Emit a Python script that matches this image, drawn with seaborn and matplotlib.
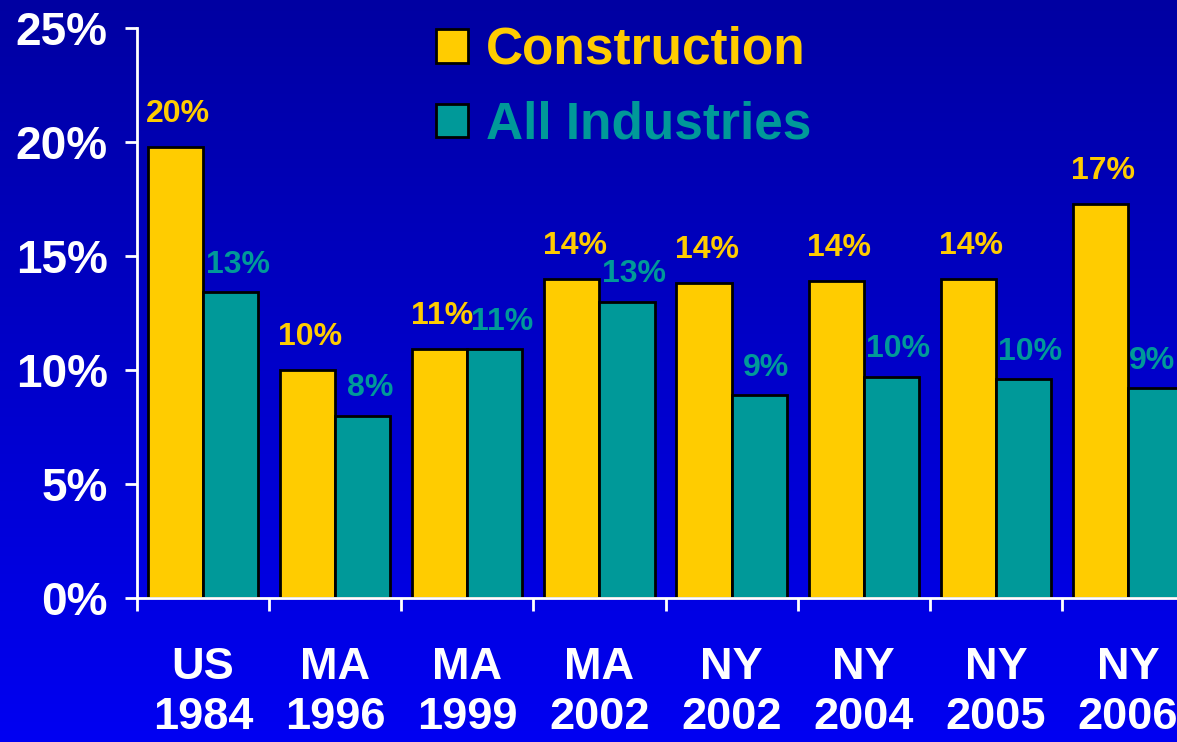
import numpy as np
import pandas as pd
import matplotlib
matplotlib.use("Agg")
import matplotlib.pyplot as plt
import seaborn as sns
from matplotlib.patches import Patch
from matplotlib.colors import LinearSegmentedColormap

# ---- data ----
categories = ["US\n1984", "MA\n1996", "MA\n1999", "MA\n2002",
              "NY\n2002", "NY\n2004", "NY\n2005", "NY\n2006"]
construction = [19.8, 10.0, 10.9, 14.0, 13.8, 13.9, 14.0, 17.3]
all_industries = [13.4, 8.0, 10.9, 13.0, 8.9, 9.7, 9.6, 9.2]
construction_labels = ["20%", "10%", "11%", "14%", "14%", "14%", "14%", "17%"]
all_labels = ["13%", "8%", "11%", "13%", "9%", "10%", "10%", "9%"]
series_names = ["Construction", "All Industries"]
y_ticks = [0, 5, 10, 15, 20, 25]
y_ticklabels = ["0%", "5%", "10%", "15%", "20%", "25%"]

YELLOW = "#FFCC00"
TEAL = "#009999"

df = pd.DataFrame({
    "category": categories * 2,
    "value": construction + all_industries,
    "series": [series_names[0]] * len(categories) + [series_names[1]] * len(categories),
})

sns.set_theme(style="white")
plt.rcParams["font.family"] = ["Liberation Sans", "DejaVu Sans"]
plt.rcParams["font.weight"] = "bold"

W, H = 1177, 742
fig = plt.figure(figsize=(W / 100, H / 100), dpi=100)

# background gradient
bg = fig.add_axes([0, 0, 1, 1], zorder=0)
cmap = LinearSegmentedColormap.from_list("bg", ["#0000A2", "#0000F2"])
grad = np.linspace(0, 1, 256).reshape(-1, 1)
bg.imshow(grad, aspect="auto", cmap=cmap, extent=[0, 1, 1, 0])
bg.set_axis_off()

left = 137 / W
right = 1194 / W
bottom = (H - 598) / H
top = (H - 28) / H
ax = fig.add_axes([left, bottom, right - left, top - bottom], zorder=1)
ax.patch.set_alpha(0)

sns.barplot(data=df, x="category", y="value", hue="series",
            palette=[YELLOW, TEAL], width=0.835, edgecolor="black",
            linewidth=2, saturation=1, ax=ax, legend=False, errorbar=None)

ax.set_ylim(0, 25)
ax.set_xlim(-0.5, len(categories) - 0.5)
ax.set_xlabel("")
ax.set_ylabel("")

for s in ["top", "right"]:
    ax.spines[s].set_visible(False)
for s in ["left", "bottom"]:
    ax.spines[s].set_color("white")
    ax.spines[s].set_linewidth(2)

ax.set_yticks(y_ticks)
ax.set_yticklabels(y_ticklabels)
ax.tick_params(axis="y", colors="white", length=9, width=2, pad=12,
               labelsize=33, direction="out", left=True)
ax.set_xticks(range(len(categories)))
ax.set_xticklabels(categories, linespacing=1.28)
ax.tick_params(axis="x", which="major", colors="white", length=0, pad=35,
               labelsize=32.5)
ax.set_xticks(np.arange(-0.5, len(categories), 1.0), minor=True)
ax.tick_params(axis="x", which="minor", colors="white", length=9, width=2,
               direction="out", bottom=True)
for t in ax.get_xticklabels() + ax.get_yticklabels():
    t.set_fontweight("bold")

# value labels
value_texts = []
for cont, labels, color, dx, dy in [
        (ax.containers[0], construction_labels, YELLOW, 2, 13),
        (ax.containers[1], all_labels, TEAL, 5, 9)]:
    for bar, lab in zip(cont, labels):
        x = bar.get_x() + bar.get_width() / 2
        y = bar.get_height()
        t = ax.annotate(lab, (x, y), xytext=(dx, dy), textcoords="offset points",
                        ha="center", va="bottom", color=color, fontsize=23,
                        fontweight="bold", clip_on=False)
        value_texts.append(t)

# keep value labels inside the figure
fig.canvas.draw()
renderer = fig.canvas.get_renderer()
for t in value_texts:
    bb = t.get_window_extent(renderer)
    over = bb.x1 - (W - 2)
    if over > 0:
        dx, dy = t.xyann
        t.xyann = (dx - over * 72 / 100, dy)

# legend
handles = [Patch(facecolor=YELLOW, edgecolor="black", linewidth=2),
           Patch(facecolor=TEAL, edgecolor="black", linewidth=2)]
leg = fig.legend(handles, series_names, loc="upper left",
                 bbox_to_anchor=(436 / W, 1 - 26 / H), frameon=False,
                 prop={"family": "Liberation Sans", "weight": "bold", "size": 37},
                 handlelength=0.62, handleheight=0.62, handletextpad=0.35,
                 labelspacing=0.5, borderpad=0, borderaxespad=0)
for t, c in zip(leg.get_texts(), [YELLOW, TEAL]):
    t.set_color(c)

fig.savefig("out.png", dpi=100)
